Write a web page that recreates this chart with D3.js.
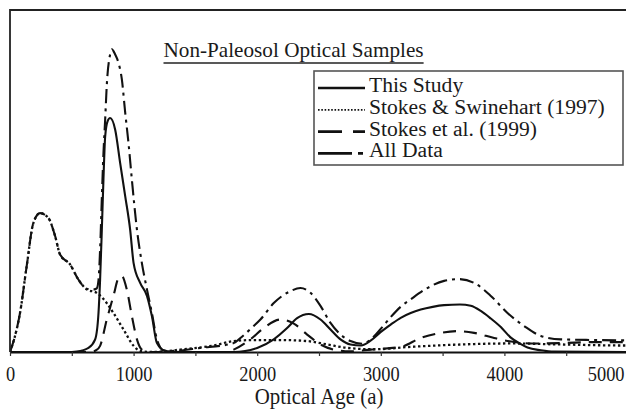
<!DOCTYPE html>
<html>
<head>
<meta charset="utf-8">
<script src="https://cdn.jsdelivr.net/npm/d3@7"></script>
<style>
  body { margin: 0; background: #fff; }
  svg { display: block; }
  text { font-family: "Liberation Serif", "Times New Roman", serif; fill: #1a1a1a; }
</style>
</head>
<body>
<svg></svg>
<script>
// ages (a) vs relative probability (% of frame height)
let thisStudy = [
  [0, 0], [500, 0], [540, 0.1], [635, 1.2], [689, 3.7], [716, 11.4], [729, 21.2], [743, 35.8],
  [756, 50.4], [770, 63], [790, 67.5], [810, 68.4], [851, 65], [891, 55.3], [932, 45.6],
  [972, 35.8], [1000, 26], [1053, 20.2], [1108, 16.4], [1148, 10.5], [1189, 2.6], [1256, 0.3],
  [1400, 0], [1810, 0], [2000, 1.2], [2134, 3.7], [2242, 7], [2323, 9.9], [2418, 11.1],
  [2512, 9.5], [2593, 6.6], [2674, 3.7], [2755, 2.2], [2840, 1.9], [2920, 3.4], [2998, 5.8],
  [3080, 8.0], [3161, 10.0], [3242, 11.4], [3323, 12.4], [3420, 13.2], [3512, 13.7], [3640, 13.9],
  [3728, 13.5], [3809, 12], [3890, 9.8], [3971, 7.3], [4052, 4.2], [4133, 2.3], [4187, 1.3],
  [4295, 0.5], [4400, 0.1], [5100, 0]
]

let stokesSwinehart = [
  [0, 0], [40, 4.6], [81, 11.4], [135, 25.1], [189, 37.7], [243, 40.6], [310, 39.2],
  [365, 33.9], [405, 28.5], [486, 25.6], [553, 21.2], [621, 18.3], [702, 17.3], [783, 14.3],
  [837, 11.4], [918, 6.6], [1000, 1.8], [1053, 0.3], [1150, 0], [1250, 0.2], [1378, 0.7],
  [1648, 1.9], [1810, 3.2], [1972, 3.5], [2188, 3.5], [2404, 3.2], [2567, 2.2], [2729, 1.2],
  [2944, 0.8], [3242, 1.5], [3647, 2.2], [4052, 2.5], [4457, 2.2], [4970, 1.9], [5100, 1.9]
]

let stokes1999 = [
  [0, 0], [650, 0], [700, 0.6], [729, 1.8], [783, 9.5], [837, 16.4], [878, 21.6], [905, 22.2],
  [945, 18.3], [986, 10.5], [1027, 3.7], [1067, 0.7], [1120, 0], [1750, 0], [1810, 0.7],
  [1945, 3.7], [2053, 7], [2188, 9.5], [2296, 8.3], [2404, 5.1], [2512, 2.2], [2620, 0.7],
  [2750, 0.2], [2917, 0.7], [3161, 1.5], [3323, 4.1], [3485, 5.6], [3620, 6.1], [3755, 5.6],
  [3917, 4.1], [4079, 2.9], [4241, 2.5], [4457, 2.6], [4727, 2.9], [4970, 2.9], [5100, 2.9]
]

let allData = [
  [0, 0], [40, 4.6], [81, 11.4], [135, 25.1], [189, 37.7], [243, 40.6], [310, 39.2],
  [365, 33.9], [405, 28.5], [486, 25.6], [553, 21.2], [621, 18.5], [680, 18.3], [702, 18.6],
  [716, 21], [729, 30], [743, 45], [756, 58], [770, 68], [783, 78], [810, 87], [824, 88.5],
  [851, 87], [878, 84.5], [905, 79.7], [932, 70], [959, 61], [986, 50.4], [1027, 35.8],
  [1067, 26], [1108, 18.3], [1148, 11.4], [1189, 3.7], [1243, 0.5], [1300, 0.3], [1540, 1.2],
  [1810, 2.6], [1864, 4.1], [1972, 7.6], [2026, 9.5], [2134, 14.3], [2269, 17.8], [2350, 18.7],
  [2431, 17.3], [2512, 13.5], [2593, 8.5], [2674, 5.1], [2755, 3.2], [2850, 2.4], [2940, 4.4],
  [3010, 7.2], [3080, 10.2], [3160, 13.2], [3242, 15.4], [3377, 18.7], [3512, 20.8], [3633, 21.3],
  [3755, 20.2], [3890, 16.4], [4025, 11.4], [4160, 7.6], [4295, 4.7], [4457, 3.7], [4727, 3.5],
  [4970, 3.4], [5100, 3.4]
]

let seriesNames = ['This Study', 'Stokes & Swinehart (1997)', 'Stokes et al. (1999)', 'All Data']
let tickAges = d3.range(0, 5001, 500)
let chartTitle = 'Non-Paleosol Optical Samples'
let xTitle = 'Optical Age (a)'

const w = 626
const h = 410
const padLeft = 10
const padTop = 10
const baseY = 352

let svg = d3.select('svg').attr('width', w).attr('height', h)

let xScale = d3.scaleLinear().domain([0, 5000]).range([padLeft, 628])
let yScale = d3.scaleLinear().domain([0, 100]).range([baseY, padTop])

let styles = [
  { data: thisStudy, dash: null, width: 2.1 },
  { data: stokesSwinehart, dash: '2.4,2.6', width: 2.3 },
  { data: stokes1999, dash: '13,8', width: 2.1 },
  { data: allData, dash: '14,5,3,5', width: 2.1 }
]
let legendDash = [null, '1.6,1.7', '24,11', '34,6,5,6']

svg.append('clipPath').attr('id', 'plot')
  .append('rect').attr('x', padLeft).attr('y', padTop).attr('width', w - padLeft).attr('height', baseY - padTop)

let line = d3.line()
  .x(d => xScale(d[0]))
  .y(d => yScale(d[1]))
  .curve(d3.curveMonotoneX)

let g = svg.append('g').attr('clip-path', 'url(#plot)')
styles.forEach(s => {
  g.append('path')
    .attr('d', line(s.data))
    .attr('fill', 'none')
    .attr('stroke', '#111')
    .attr('stroke-width', s.width)
    .attr('stroke-dasharray', s.dash)
})

// frame (top and left)
svg.append('path')
  .attr('d', `M${w},${padTop}H${padLeft}V${baseY}`)
  .attr('fill', 'none').attr('stroke', '#222').attr('stroke-width', 1.8)

// x axis
let xAxis = d3.axisBottom(xScale)
  .tickValues(tickAges)
  .tickSize(4)
  .tickSizeOuter(0)
  .tickFormat(d => d % 1000 === 0 ? d : '')

let ax = svg.append('g')
  .attr('transform', 'translate(0,' + baseY + ')')
  .call(xAxis)
ax.select('.domain').attr('stroke', '#111').attr('stroke-width', 2)
ax.selectAll('.tick line').attr('stroke', '#333').attr('stroke-width', 1.2)
ax.selectAll('.tick text')
  .attr('y', 0).attr('dy', 0)
  .attr('fill', '#1a1a1a')
  .style('font-family', '"Liberation Serif", serif')
  .style('font-size', '18.4px')
  .attr('transform', 'translate(0,29) scale(1,1.12)')
ax.selectAll('.tick text').filter(d => d === 5000)
  .attr('text-anchor', 'end').attr('x', -4)

svg.append('text')
  .attr('transform', 'translate(319,404) scale(1,1.12)')
  .attr('text-anchor', 'middle')
  .style('font-size', '20.9px')
  .text(xTitle)

// chart title with underline
let t = svg.append('text')
  .attr('x', 163.5).attr('y', 56.5)
  .style('font-size', '21.2px')
  .text(chartTitle)
let tw = t.node().getComputedTextLength()
svg.append('line')
  .attr('x1', 163.5).attr('x2', 163.5 + tw)
  .attr('y1', 63).attr('y2', 63)
  .attr('stroke', '#222').attr('stroke-width', 1.4)

// legend
svg.append('rect')
  .attr('x', 314).attr('y', 71).attr('width', 309).attr('height', 94)
  .attr('fill', '#fff').attr('stroke', '#555').attr('stroke-width', 1.6)

seriesNames.forEach((name, i) => {
  let cy = 88 + i * 21.8
  svg.append('line')
    .attr('x1', 318).attr('x2', 365)
    .attr('y1', cy).attr('y2', cy)
    .attr('stroke', '#111')
    .attr('stroke-width', i === 1 ? 1.8 : 2.6)
    .attr('stroke-dasharray', legendDash[i])
  svg.append('text')
    .attr('x', 369).attr('y', cy + 4)
    .style('font-size', '21.6px')
    .text(name)
})
</script>
</body>
</html>
